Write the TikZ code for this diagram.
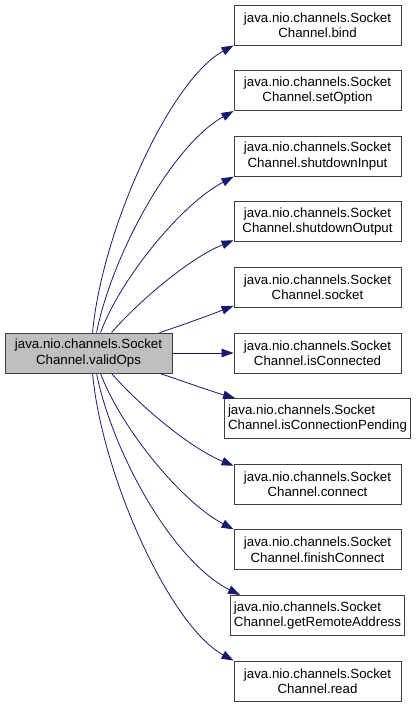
\documentclass[tikz,border=0pt]{standalone}
\usepackage{fontspec}
\setmainfont{Liberation Sans}
\usetikzlibrary{arrows.meta}
\definecolor{edgeblue}{HTML}{191970}
\definecolor{boxborder}{HTML}{404040}
\definecolor{srcfill}{HTML}{BFBFBF}
\begin{document}
\begin{tikzpicture}[x=1pt,y=-1pt,
  fn/.style={draw=boxborder, line width=0.9pt, fill=white, minimum width=167pt, minimum height=40pt,
    inner xsep=3.5pt, inner ysep=2pt, align=center, font=\fontsize{13.3}{15.3}\selectfont, text=black},
  wide/.style={fn, align=left},
  src/.style={fn, fill=srcfill},
  call/.style={draw=edgeblue, line width=0.8pt, -{Triangle[length=12pt,width=8.5pt]}, fill=none}
]
\useasboundingbox (0,0) rectangle (420,705);
\node[src] (v) at (88.5,353) {java.nio.channels.Socket\\Channel.validOps};
\node[fn] (bind) at (317.5,25) {java.nio.channels.Socket\\Channel.bind};
\node[fn] (setopt) at (317.5,90.6) {java.nio.channels.Socket\\Channel.setOption};
\node[fn] (shin) at (317.5,156.2) {java.nio.channels.Socket\\Channel.shutdownInput};
\node[fn] (shout) at (317.5,221.8) {java.nio.channels.Socket\\Channel.shutdownOutput};
\node[fn] (sock) at (317.5,287.4) {java.nio.channels.Socket\\Channel.socket};
\node[fn] (iscon) at (317.5,353) {java.nio.channels.Socket\\Channel.isConnected};
\node[wide] (pend) at (317.5,418.6) {java.nio.channels.Socket\\Channel.isConnectionPending};
\node[fn] (conn) at (317.5,484.2) {java.nio.channels.Socket\\Channel.connect};
\node[fn] (fin) at (317.5,549.8) {java.nio.channels.Socket\\Channel.finishConnect};
\node[wide] (gra) at (317.5,615.4) {java.nio.channels.Socket\\Channel.getRemoteAddress};
\node[fn] (read) at (317.5,681) {java.nio.channels.Socket\\Channel.read};
% upper calls
\draw[call] ([xshift=88pt]v.north west) .. controls (102,230) and (170,80) .. (bind.south west);
\draw[call] ([xshift=92pt]v.north west) .. controls (112,255) and (172,145) .. (setopt.south west);
\draw[call] ([xshift=96pt]v.north west) .. controls (120,280) and (180,205) .. (shin.south west);
\draw[call] ([xshift=107pt]v.north west) .. controls (140,300) and (190,258) .. ([yshift=2pt]shout.south west);
\draw[call] ([xshift=155pt]v.north west) .. controls (180,326) and (210,315) .. ([yshift=2pt]sock.south west);
\draw[call] (v.east) -- (iscon.west);
% lower calls
\draw[call] ([xshift=155pt]v.south west) .. controls (180,380) and (210,391) .. ([xshift=11pt]pend.north west);
\draw[call] ([xshift=107pt]v.south west) .. controls (140,406) and (190,448) .. ([yshift=-2pt]conn.north west);
\draw[call] ([xshift=96pt]v.south west) .. controls (120,426) and (180,501) .. (fin.north west);
\draw[call] ([xshift=92pt]v.south west) .. controls (112,451) and (172,561) .. ([xshift=10pt]gra.north west);
\draw[call] ([xshift=88pt]v.south west) .. controls (102,476) and (170,626) .. (read.north west);
\end{tikzpicture}
\end{document}
